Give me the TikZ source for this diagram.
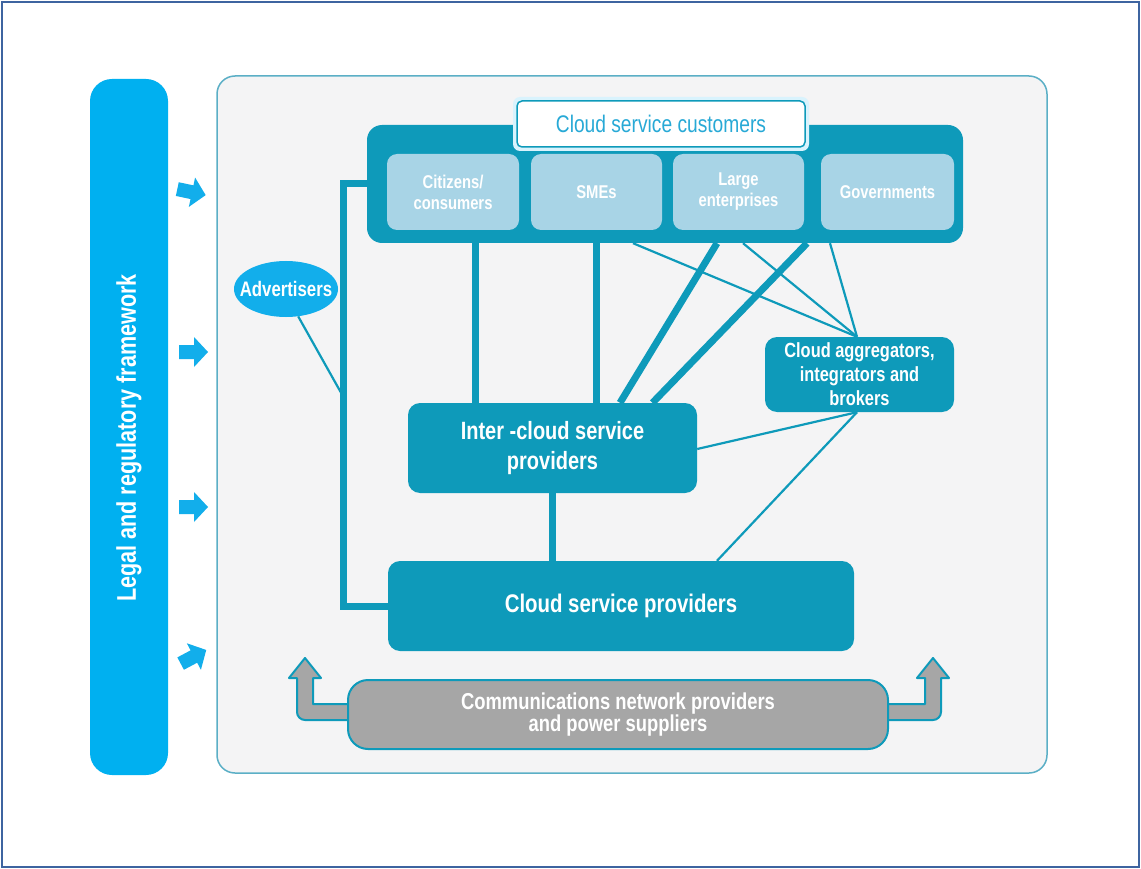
\documentclass[tikz,border=0pt]{standalone}
\usepackage{fontspec}
\setmainfont{Liberation Sans}[FakeStretch=0.8]
\usetikzlibrary{shapes.geometric,calc}
\definecolor{tealc}{RGB}{14,154,186}
\definecolor{lightb}{RGB}{168,212,230}
\definecolor{brightb}{RGB}{18,174,235}
\definecolor{legalb}{RGB}{0,176,240}
\definecolor{panelf}{RGB}{244,244,245}
\definecolor{panels}{RGB}{91,175,198}
\definecolor{grayf}{RGB}{166,166,166}
\definecolor{labtext}{RGB}{39,169,214}
\definecolor{framec}{RGB}{62,100,160}
\tikzset{
  tealbox/.style={fill=tealc, rounded corners=12pt, text=white, font=\bfseries, align=center, inner sep=0pt},
  subbox/.style={fill=lightb, rounded corners=10pt, text=white, font=\bfseries\fontsize{18.5}{21}\selectfont, align=center, inner sep=0pt},
  thickline/.style={draw=tealc, line width=7pt},
  thinline/.style={draw=tealc, line width=2.2pt},
  sidearrow/.style={fill=brightb},
  commarrow/.style={draw=tealc, line width=2pt, fill=grayf, line join=round}
}
\newcommand{\sidearrowshape}{(-14,-7) -- (1,-7) -- (1,-15) -- (15,0) -- (1,15) -- (1,7) -- (-14,7) -- cycle}
\begin{document}
\begin{tikzpicture}[x=1pt,y=-1pt]
\useasboundingbox (0,0) rectangle (1141,869);
\draw[framec, line width=1.5pt, fill=white] (2,2) rectangle (1139,867);

% legal bar
\node[fill=legalb, rounded corners=22pt, minimum width=78pt, minimum height=696pt, inner sep=0pt] (legal) at (129,427) {};
\node[rotate=90, text=white, font=\bfseries\fontsize{27}{30}\selectfont] (legaltxt) at (129,438) {Legal and regulatory framework};

% panel
\node[draw=panels, line width=1.5pt, fill=panelf, rounded corners=18pt, minimum width=830pt, minimum height=697pt, inner sep=0pt] (panel) at (632,424.5) {};

% side arrows
\fill[sidearrow, shift={(191,192)}, rotate=-12] \sidearrowshape;
\fill[sidearrow, shift={(193,352)}] \sidearrowshape;
\fill[sidearrow, shift={(193,507)}] \sidearrowshape;
\fill[sidearrow, shift={(193,657)}, rotate=28] \sidearrowshape;

% customers
\node[tealbox, rounded corners=15pt, minimum width=596pt, minimum height=118pt] (cust) at (665,184) {};
\node[fill=cyan!15, rounded corners=7pt, minimum width=296pt, minimum height=54pt, inner sep=0pt] (glow) at (661,124) {};
\node[draw=tealc, line width=1.5pt, fill=white, rounded corners=5pt, minimum width=288pt, minimum height=46pt, inner sep=0pt, text=labtext, font=\fontsize{24}{27}\selectfont] (custlabel) at (661,124) {Cloud service customers};
\node[subbox, minimum width=132pt, minimum height=76pt] (citizens) at (453,192) {Citizens/\\consumers};
\node[subbox, minimum width=131pt, minimum height=76pt] (smes) at (596.5,192) {SMEs};
\node[subbox, minimum width=131pt, minimum height=76pt] (large) at (738.5,192) {Large\\enterprises};
\node[subbox, minimum width=133pt, minimum height=76pt] (gov) at (887.5,192) {Governments};

% other boxes
\node[ellipse, fill=brightb, minimum width=104pt, minimum height=56pt, inner sep=0pt] (adv) at (286,289) {};
\node[inner sep=0pt, text=white, font=\bfseries\fontsize{21}{24}\selectfont] (advtxt) at (adv.center) {Advertisers};
\node[tealbox, minimum width=289pt, minimum height=90pt, font=\bfseries\fontsize{25}{30}\selectfont] (inter) at (552.5,448) {Inter -cloud service\\providers};
\node[tealbox, minimum width=189pt, minimum height=75pt, font=\bfseries\fontsize{20.5}{24}\selectfont] (agg) at (859.5,374.5) {Cloud aggregators,\\integrators and\\brokers};
\node[tealbox, minimum width=466pt, minimum height=90pt, font=\bfseries\fontsize{25.5}{28}\selectfont] (csp) at (621,606) {Cloud service providers};

% connectors
\coordinate (vl) at (344,398);
\draw[thickline] (cust.west) -- ++(-23pt,0) |- (csp.west);
\draw[thinline] (adv.-66) -- (vl);
\draw[thickline] ([xshift=22pt]citizens.south |- cust.south) -- ([xshift=22pt]citizens.south |- inter.north);
\draw[thickline] (smes.south |- cust.south) -- (smes.south |- inter.north);
\draw[thickline] ([xshift=-21.5pt]large.south |- cust.south) -- ([xshift=67.5pt]inter.north);
\draw[thickline] ([xshift=-80.5pt]gov.south |- cust.south) -- ([xshift=100pt]inter.north);
\draw[thickline] (inter.south) -- (inter.south |- csp.north);
\draw[thinline] ([xshift=36.5pt]smes.south |- cust.south) -- ([xshift=-2.5pt]agg.north);
\draw[thinline] ([xshift=4.5pt]large.south |- cust.south) -- ([xshift=-2.5pt]agg.north);
\draw[thinline] ([xshift=-57.5pt]gov.south |- cust.south) -- ([xshift=-2.5pt]agg.north);
\draw[thinline] ([xshift=-2.5pt]agg.south) -- ([yshift=-1pt]inter.east);
\draw[thinline] ([xshift=-2.5pt]agg.south) -- ([xshift=96pt]csp.north);

% communications arrows
\draw[commarrow] (370,704) -- (313,704) -- (313,678) -- (321,678) -- (305,658) -- (289,678) -- (297,678) {[rounded corners=8pt] -- (297,720) -- (370,720)} -- cycle;
\draw[commarrow] (866,704) -- (925,704) -- (925,678) -- (917,678) -- (933,658) -- (949,678) -- (941,678) {[rounded corners=8pt] -- (941,720) -- (866,720)} -- cycle;
\node[draw=tealc, line width=2pt, fill=grayf, rounded corners=20pt, minimum width=540pt, minimum height=69pt, inner sep=0pt, text=white, font=\bfseries\fontsize{23}{22}\selectfont, align=center] (comm) at (618,714.5) {Communications network providers\\and power suppliers};
\end{tikzpicture}
\end{document}
